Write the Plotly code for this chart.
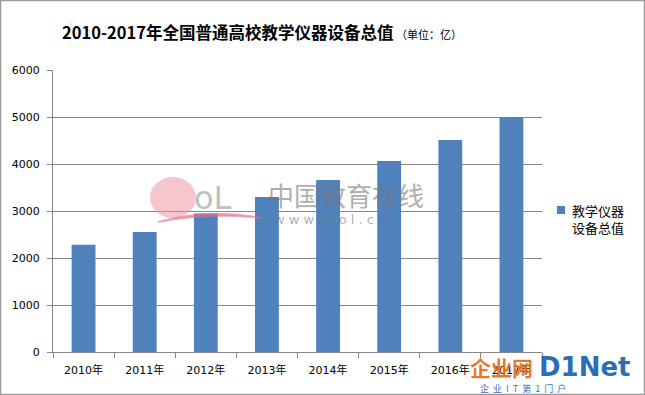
import plotly.graph_objects as go

years = ["2010年", "2011年", "2012年", "2013年", "2014年", "2015年", "2016年", "2017年"]
values = [2280, 2555, 2945, 3300, 3660, 4065, 4510, 5000]
series_name = "教学仪器<br>设备总值"
title_main = "2010-2017年全国普通高校教学仪器设备总值"
title_unit = "（单位：亿）"

font_fam = "DejaVu Sans, Noto Sans CJK SC, sans-serif"
bar_color = "#4F81BD"

PW, PH = 489, 282  # plot area pixel size
def px(x):
    return (x - 53) / PW
def py(y):
    return (352 - y) / PH

fig = go.Figure()
fig.add_trace(go.Bar(
    x=years, y=values, name=series_name,
    marker=dict(color=bar_color, line=dict(width=0)),
    showlegend=False,
))

fig.update_layout(
    width=645, height=395,
    margin=dict(l=53, r=103, t=70, b=43, autoexpand=False),
    paper_bgcolor="white", plot_bgcolor="white",
    bargap=0.61,
    font=dict(family=font_fam, size=11, color="#000000"),
    title=dict(
        text=f"<b>{title_main}</b><span style='font-size:11px;font-weight:normal'> {title_unit}</span>",
        x=62/645, xanchor="left", y=1-33/395, yanchor="middle",
        font=dict(family="Noto Sans CJK SC, sans-serif", size=16.5, color="#000000"),
    ),
    xaxis=dict(
        showline=True, linecolor="#868686", linewidth=1,
        ticks="outside", ticklen=5, tickcolor="#868686", tickson="boundaries",
        showgrid=False, ticklabelstandoff=8,
        tickfont=dict(family=font_fam, size=11, color="#000000"),
    ),
    yaxis=dict(
        range=[0, 6000], dtick=1000,
        showline=True, linecolor="#868686", linewidth=1,
        ticks="outside", ticklen=5, tickcolor="#868686",
        showgrid=True, gridcolor="#878787", gridwidth=1,
        zeroline=False, ticklabelstandoff=5,
        tickfont=dict(family=font_fam, size=11, color="#000000"),
    ),
    shapes=[
        # outer frame
        dict(type="rect", xref="paper", yref="paper",
             x0=px(0.5), x1=px(644.5), y0=py(394.5), y1=py(0.5),
             line=dict(color="#9a9a9a", width=1.5), fillcolor="rgba(0,0,0,0)"),
        # legend swatch
        dict(type="rect", xref="paper", yref="paper",
             x0=px(557), x1=px(565), y0=py(214), y1=py(206),
             line=dict(width=0), fillcolor=bar_color),
        # eol watermark blob
        dict(type="circle", xref="paper", yref="paper",
             x0=px(150), x1=px(196), y0=py(218), y1=py(177),
             line=dict(width=0), fillcolor="rgba(240,140,155,0.5)", layer="above"),
        dict(type="path", xref="paper", yref="paper",
             path=f"M {px(158)},{py(222)} Q {px(210)},{py(208)} {px(262)},{py(218)} Q {px(210)},{py(212)} {px(158)},{py(222)} Z",
             line=dict(color="rgba(225,110,140,0.55)", width=2), fillcolor="rgba(225,110,140,0.5)", layer="above"),
    ],
)

# legend text
fig.add_annotation(text=series_name, xref="paper", yref="paper", x=px(570), y=py(199),
                   showarrow=False, xanchor="left", yanchor="top", align="left",
                   font=dict(family="Noto Sans CJK SC, sans-serif", size=13, color="#000000"))

# watermarks
fig.add_annotation(text="oL", xref="paper", yref="paper", x=px(192), y=py(198),
                   showarrow=False, xanchor="left", yanchor="middle",
                   font=dict(family="DejaVu Sans", size=32, color="rgba(150,150,150,0.6)"))
fig.add_annotation(text="中国教育在线", xref="paper", yref="paper", x=px(266), y=py(194),
                   showarrow=False, xanchor="left", yanchor="middle",
                   font=dict(family="Noto Sans CJK SC", size=26, color="rgba(120,120,120,0.6)"))
fig.add_annotation(text="w w w . e o l . c n", xref="paper", yref="paper", x=px(272), y=py(219),
                   showarrow=False, xanchor="left", yanchor="middle",
                   font=dict(family="DejaVu Sans", size=13, color="rgba(120,120,120,0.6)"))
fig.add_annotation(text="<b>企业网</b>", xref="paper", yref="paper", x=px(468), y=py(367),
                   showarrow=False, xanchor="left", yanchor="middle",
                   font=dict(family="Noto Sans CJK SC", size=21, color="rgba(235,110,30,0.95)"))
fig.add_annotation(text="<b>D1Net</b>", xref="paper", yref="paper", x=px(537), y=py(367),
                   showarrow=False, xanchor="left", yanchor="middle",
                   font=dict(family="DejaVu Sans", size=26, color="rgba(30,100,180,0.95)"))
fig.add_annotation(text="企  业  I  T  第  1  门  户", xref="paper", yref="paper", x=px(478), y=py(388),
                   showarrow=False, xanchor="left", yanchor="middle",
                   font=dict(family="Noto Sans CJK SC", size=9, color="rgba(30,100,180,0.95)"))

fig.write_html("out.html", config={"displayModeBar": False},
               post_script="document.body.style.margin='0';")
